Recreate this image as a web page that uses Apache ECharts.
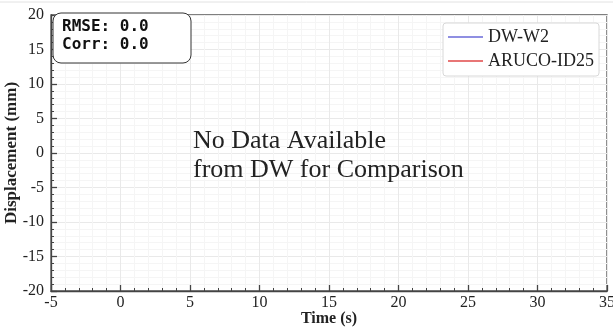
<!DOCTYPE html>
<html>
<head>
<meta charset="utf-8">
<script src="https://cdn.jsdelivr.net/npm/echarts@6/dist/echarts.min.js"></script>
<style>
html,body{margin:0;padding:0;background:#fff;}
#chart{width:613px;height:331px;}
</style>
</head>
<body>
<div id="chart"></div>
<script>
// Data
var seriesNames = ['DW-W2', 'ARUCO-ID25'];
var seriesColors = ['#6a6ad8', '#e04848'];
var dwW2Data = [];        // no data available
var arucoId25Data = [];   // no data available
var xRange = [-5, 35];
var yRange = [-20, 20];
var tickStep = 5;
var statsLines = ['RMSE: 0.0', 'Corr: 0.0'];
var noteLines = ['No Data Available', 'from DW for Comparison'];

var serif = '"Liberation Serif", "Times New Roman", serif';
var chart = echarts.init(document.getElementById('chart'), null, {renderer: 'canvas'});

var axisCommon = {
  axisLine: {show: true, onZero: false, lineStyle: {color: '#444', width: 1.3}},
  axisTick: {show: true, inside: true, length: 6, lineStyle: {color: '#444', width: 1.3}},
  minorTick: {show: true, splitNumber: 5, length: 3, lineStyle: {color: '#444', width: 1}},
  splitLine: {show: true, lineStyle: {color: '#e9e9e9', width: 1}},
  minorSplitLine: {show: true, lineStyle: {color: '#f5f5f5', width: 1}},
  axisLabel: {fontFamily: serif, fontSize: 16, color: '#222'},
  nameMoveOverlap: false,
  nameTextStyle: {fontFamily: serif, fontSize: 16, fontWeight: 'bold', color: '#222'}
};

chart.setOption({
  animation: false,
  backgroundColor: '#fff',
  grid: {left: 51, right: 6, top: 15, bottom: 40, show: true, borderColor: '#555', borderWidth: 1.3, containLabel: false, outerBoundsMode: 'none'},
  xAxis: Object.assign({}, axisCommon, {
    type: 'value', min: xRange[0], max: xRange[1], interval: tickStep,
    name: 'Time (s)', nameLocation: 'middle', nameGap: 20,
    axisLabel: Object.assign({}, axisCommon.axisLabel, {margin: 4})
  }),
  yAxis: Object.assign({}, axisCommon, {
    type: 'value', min: yRange[0], max: yRange[1], interval: tickStep,
    name: 'Displacement (mm)', nameLocation: 'middle', nameGap: 31, nameRotate: 90,
    axisLabel: Object.assign({}, axisCommon.axisLabel, {margin: 7}),
    nameTextStyle: {fontFamily: serif, fontSize: 17, fontWeight: 'bold', color: '#222'}
  }),
  legend: {
    data: seriesNames,
    orient: 'vertical',
    right: 14, top: 23,
    backgroundColor: '#fff',
    borderColor: '#d8d8d8', borderWidth: 1, borderRadius: 3,
    padding: [5, 5, 6, 5],
    itemWidth: 35, itemHeight: 1.5, itemGap: 6,
    icon: 'rect',
    textStyle: {fontFamily: serif, fontSize: 18, color: '#222', padding: [0, 0, 0, 0]}
  },
  series: [
    {name: seriesNames[0], type: 'line', data: dwW2Data, showSymbol: false, lineStyle: {color: seriesColors[0], width: 1.2}, itemStyle: {color: seriesColors[0]}},
    {name: seriesNames[1], type: 'line', data: arucoId25Data, showSymbol: false, lineStyle: {color: seriesColors[1], width: 1.2}, itemStyle: {color: seriesColors[1]}}
  ],
  graphic: [
    {type: 'line', shape: {x1: 0, y1: 2, x2: 613, y2: 2}, style: {stroke: '#e2e2e2', lineWidth: 1}, silent: true},
    {type: 'rect', shape: {x: 53, y: 13, width: 138, height: 50, r: 8}, style: {fill: '#fff', stroke: '#333', lineWidth: 1}, z: 100},
    {type: 'text', x: 62, y: 18, z: 101, style: {text: statsLines.join('\n'), font: 'bold 16px "DejaVu Sans Mono", monospace', fill: '#111', lineHeight: 18}},
    {type: 'text', x: 193, y: 127, z: 101, style: {text: noteLines.join('\n'), font: '26px ' + serif, fill: '#222', lineHeight: 29}}
  ]
});
</script>
</body>
</html>
